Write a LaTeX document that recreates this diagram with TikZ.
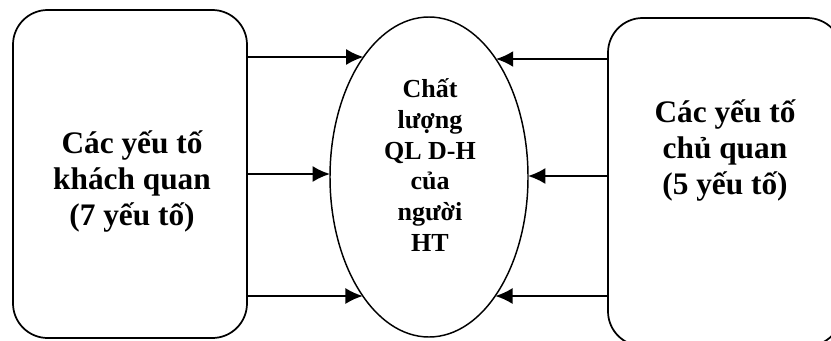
\documentclass[tikz,border=0pt]{standalone}
\usepackage{fontspec}
\setmainfont{Liberation Serif}
\usetikzlibrary{arrows.meta,shapes.geometric}
\begin{document}
\begin{tikzpicture}[x=0.75pt,y=-0.75pt,
  box/.style={draw,line width=1.3pt,rounded corners=26pt,minimum width=175.5pt,minimum height=246pt,inner sep=0pt},
  oval/.style={draw,line width=1.1pt,ellipse,minimum width=148.5pt,minimum height=240pt,inner sep=0pt},
  sidetext/.style={align=center,font=\bfseries\fontsize{23.5pt}{27pt}\selectfont},
  midtext/.style={align=center,font=\bfseries\fontsize{19.5pt}{23pt}\selectfont},
  arr/.style={line width=1.5pt,-{Latex[length=13pt,width=12pt]}}]
\useasboundingbox (0,0) rectangle (831,340);
\clip (0,0) rectangle (831,340);
\node[box] (lbox) at (130,174) {};
\node[box] (rbox) at (725,182) {};
\node[oval] (ell) at (429,177) {};
\node[sidetext] (ltext) at (132,181) {Các yếu tố\\khách quan\\(7 yếu tố)};
\node[sidetext] (rtext) at (725,150) {Các yếu tố\\chủ quan\\(5 yếu tố)};
\node[midtext] (ctext) at (430,165) {Chất\\lượng\\QL D-H\\của\\người\\HT};
\coordinate (l1) at (363.5,57);
\coordinate (l2) at (330,174);
\coordinate (l3) at (362.8,296);
\coordinate (r1) at (495.9,59);
\coordinate (r2) at (528,176);
\coordinate (r3) at (495.2,296);
\draw[arr] (lbox.east |- l1) -- (l1);
\draw[arr] (lbox.east |- l2) -- (l2);
\draw[arr] (lbox.east |- l3) -- (l3);
\draw[arr] (rbox.west |- r1) -- (r1);
\draw[arr] (rbox.west |- r2) -- (r2);
\draw[arr] (rbox.west |- r3) -- (r3);
\end{tikzpicture}
\end{document}
